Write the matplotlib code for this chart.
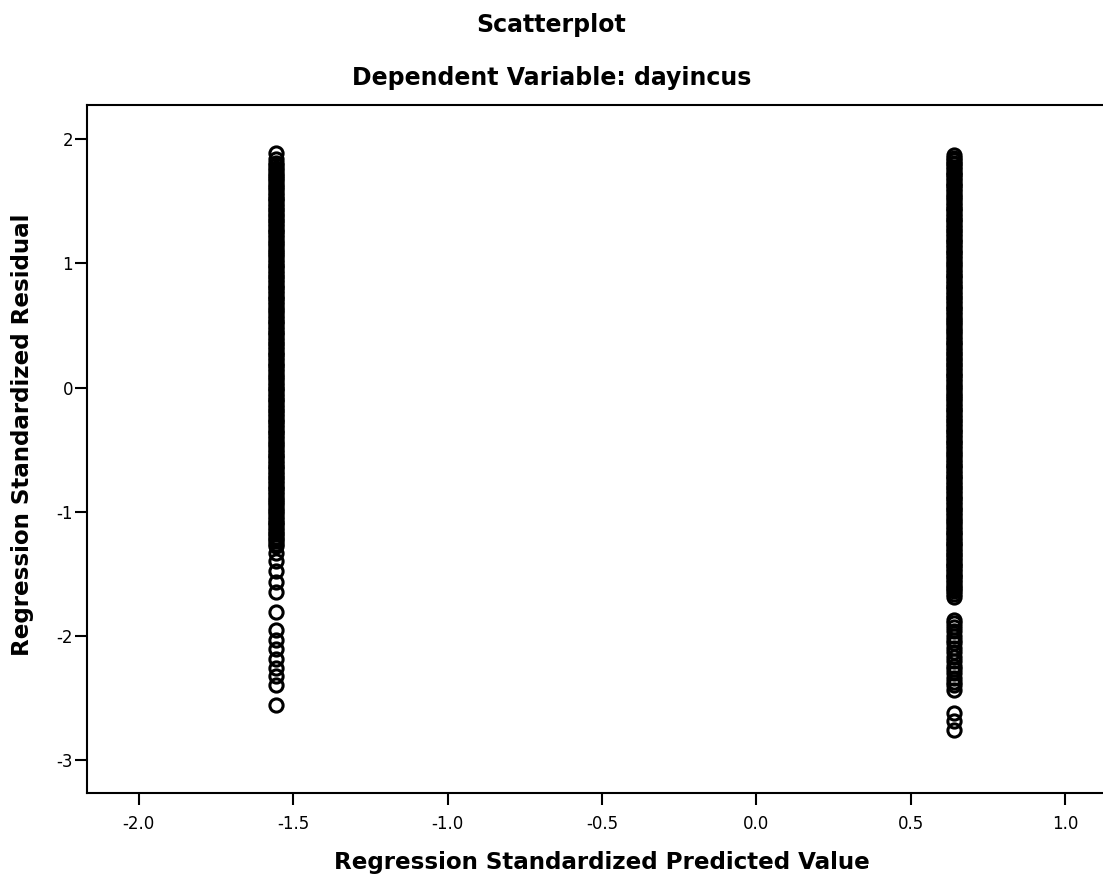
import numpy as np
import matplotlib
matplotlib.use("Agg")
import matplotlib.pyplot as plt

plt.rcParams['font.family'] = ['DejaVu Sans']
plt.rcParams['axes.unicode_minus'] = False

# predicted value of each of the two groups
pred_values = [-1.555, 0.640]

# standardized residuals, group 1 (left column)
resid_left = [
    1.89, 1.84, 1.81, 1.79, 1.77, 1.75, 1.73, 1.71, 1.70, 1.68, 1.66, 1.64, 1.62, 1.61, 1.59,
    1.57, 1.55, 1.53, 1.52, 1.50, 1.48, 1.46, 1.44, 1.43, 1.41, 1.39, 1.37, 1.35, 1.34, 1.32,
    1.30, 1.28, 1.26, 1.25, 1.23, 1.21, 1.19, 1.17, 1.16, 1.14, 1.12, 1.10, 1.08, 1.07, 1.05,
    1.03, 1.01, 0.99, 0.98, 0.96, 0.94, 0.92, 0.90, 0.89, 0.87, 0.85, 0.83, 0.81, 0.80, 0.78,
    0.76, 0.74, 0.72, 0.71, 0.69, 0.67, 0.65, 0.63, 0.62, 0.60, 0.58, 0.56, 0.54, 0.53, 0.51,
    0.49, 0.47, 0.45, 0.44, 0.42, 0.40, 0.38, 0.36, 0.35, 0.33, 0.31, 0.29, 0.27, 0.26, 0.24,
    0.22, 0.20, 0.18, 0.17, 0.15, 0.13, 0.11, 0.09, 0.08, 0.06, 0.04, 0.02, 0.00, -0.01, -0.03,
    -0.05, -0.07, -0.09, -0.10, -0.12, -0.14, -0.16, -0.18, -0.19, -0.21, -0.23, -0.25, -0.27,
    -0.28, -0.30, -0.32, -0.34, -0.36, -0.37, -0.39, -0.41, -0.43, -0.45, -0.46, -0.48, -0.50,
    -0.52, -0.54, -0.55, -0.57, -0.59, -0.61, -0.63, -0.64, -0.66, -0.68, -0.70, -0.72, -0.73,
    -0.75, -0.77, -0.79, -0.81, -0.82, -0.84, -0.86, -0.88, -0.90, -0.91, -0.93, -0.95, -0.97,
    -0.99, -1.00, -1.02, -1.04, -1.06, -1.08, -1.09, -1.11, -1.13, -1.15, -1.17, -1.18, -1.20,
    -1.22, -1.24, -1.26, -1.28,
    -1.33, -1.40, -1.48, -1.57, -1.65, -1.81, -1.95, -2.03, -2.11, -2.19, -2.26, -2.32, -2.40,
    -2.56,
]

# standardized residuals, group 2 (right column)
resid_right = [
    1.87, 1.85, 1.83, 1.81, 1.80, 1.78, 1.76, 1.74, 1.72, 1.71, 1.69, 1.67, 1.65, 1.63, 1.62,
    1.60, 1.58, 1.56, 1.54, 1.53, 1.51, 1.49, 1.47, 1.45, 1.44, 1.42, 1.40, 1.38, 1.36, 1.35,
    1.33, 1.31, 1.29, 1.27, 1.26, 1.24, 1.22, 1.20, 1.18, 1.17, 1.15, 1.13, 1.11, 1.09, 1.08,
    1.06, 1.04, 1.02, 1.00, 0.99, 0.97, 0.95, 0.93, 0.91, 0.90, 0.88, 0.86, 0.84, 0.82, 0.81,
    0.79, 0.77, 0.75, 0.73, 0.72, 0.70, 0.68, 0.66, 0.64, 0.63, 0.61, 0.59, 0.57, 0.55, 0.54,
    0.52, 0.50, 0.48, 0.46, 0.45, 0.43, 0.41, 0.39, 0.37, 0.36, 0.34, 0.32, 0.30, 0.28, 0.27,
    0.25, 0.23, 0.21, 0.19, 0.18, 0.16, 0.14, 0.12, 0.10, 0.09, 0.07, 0.05, 0.03, 0.01, 0.00,
    -0.02, -0.04, -0.06, -0.08, -0.09, -0.11, -0.13, -0.15, -0.17, -0.18, -0.20, -0.22, -0.24,
    -0.26, -0.27, -0.29, -0.31, -0.33, -0.35, -0.36, -0.38, -0.40, -0.42, -0.44, -0.45, -0.47,
    -0.49, -0.51, -0.53, -0.54, -0.56, -0.58, -0.60, -0.62, -0.63, -0.65, -0.67, -0.69, -0.71,
    -0.72, -0.74, -0.76, -0.78, -0.80, -0.81, -0.83, -0.85, -0.87, -0.89, -0.90, -0.92, -0.94,
    -0.96, -0.98, -0.99, -1.01, -1.03, -1.05, -1.07, -1.08, -1.10, -1.12, -1.14, -1.16, -1.17,
    -1.19, -1.21, -1.23, -1.25, -1.26, -1.28, -1.30, -1.32, -1.34, -1.35, -1.37, -1.39, -1.41,
    -1.43, -1.44, -1.46, -1.48, -1.50, -1.52, -1.53, -1.55, -1.57, -1.59, -1.61, -1.62, -1.64,
    -1.66, -1.69,
    -1.87, -1.90, -1.93, -1.96, -2.00, -2.03, -2.06, -2.10, -2.13, -2.17, -2.20, -2.24, -2.27,
    -2.30, -2.34, -2.37, -2.40, -2.44, -2.62, -2.69, -2.76,
]

x_ticks = [-2.0, -1.5, -1.0, -0.5, 0.0, 0.5, 1.0]
y_ticks = [-3, -2, -1, 0, 1, 2]

fig = plt.figure(figsize=(11.03, 8.80), dpi=100)
ax = fig.add_axes([87 / 1103, 1 - 793 / 880, 1 - 87 / 1103, 688 / 880])

for xv, res in zip(pred_values, [resid_left, resid_right]):
    ax.plot(np.full(len(res), xv), res, 'o', ms=9.5, mfc='none', mec='black', mew=2.2)

ax.set_xlim(-2.168, 1.123)
ax.set_ylim(-3.266, 2.276)
ax.set_xticks(x_ticks)
ax.set_xticklabels(['%.1f' % v for v in x_ticks])
ax.set_yticks(y_ticks)
ax.tick_params(direction='out', length=8.6, width=1.5, labelsize=12, colors='black')
ax.tick_params(axis='x', pad=7)
ax.tick_params(axis='y', pad=1.5)
for s in ['left', 'top', 'bottom']:
    ax.spines[s].set_linewidth(1.5)
ax.spines['right'].set_visible(False)

fig.text(0.5, 1 - 25 / 880, 'Scatterplot', ha='center', va='center', fontsize=17, fontweight='bold')
fig.text(0.5, 1 - 78 / 880, 'Dependent Variable: dayincus', ha='center', va='center',
         fontsize=17, fontweight='bold')
fig.text(602 / 1103, 1 - 862 / 880, 'Regression Standardized Predicted Value', ha='center',
         va='center', fontsize=16.6, fontweight='bold')
fig.text(23 / 1103, 1 - 435 / 880, 'Regression Standardized Residual', ha='center', va='center',
         rotation=90, fontsize=16.6, fontweight='bold')

fig.savefig('out.png', dpi=100)
